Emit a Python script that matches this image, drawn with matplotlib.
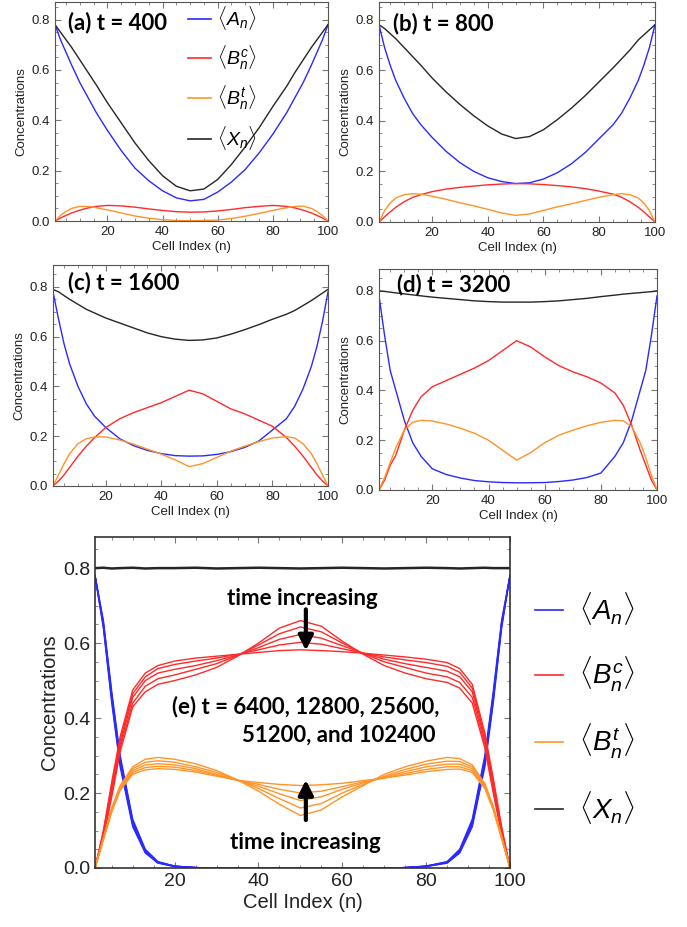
import matplotlib
matplotlib.use("Agg")
import matplotlib.pyplot as plt
from matplotlib.ticker import MultipleLocator
from matplotlib.lines import Line2D

plt.rcParams['font.family'] = ['Liberation Sans', 'DejaVu Sans']
plt.rcParams['mathtext.fontset'] = 'custom'
plt.rcParams['mathtext.rm'] = 'Liberation Sans'
plt.rcParams['mathtext.it'] = 'Liberation Sans:italic'

# cell index grid the values were read at
cell = [1, 3, 5, 7, 10, 13, 16, 20, 25, 30, 35, 40, 45, 50,
        55, 60, 65, 70, 75, 80, 85, 88, 91, 94, 96, 98, 100]

# (a) t = 400
A_400 = [0.78, 0.72, 0.67, 0.62, 0.55, 0.49, 0.43, 0.36, 0.28, 0.21, 0.16, 0.12, 0.092, 0.08,
         0.086, 0.115, 0.155, 0.205, 0.27, 0.345, 0.43, 0.49, 0.55, 0.62, 0.67, 0.72, 0.78]
Bc_400 = [0.0, 0.012, 0.022, 0.032, 0.043, 0.052, 0.058, 0.062, 0.06, 0.055, 0.048, 0.042, 0.037, 0.035,
          0.036, 0.040, 0.046, 0.053, 0.058, 0.062, 0.058, 0.052, 0.043, 0.032, 0.022, 0.012, 0.0]
Bt_400 = [0.0, 0.022, 0.038, 0.05, 0.058, 0.058, 0.053, 0.044, 0.032, 0.02, 0.011, 0.005, 0.002, 0.001,
          0.002, 0.004, 0.010, 0.019, 0.030, 0.042, 0.053, 0.058, 0.059, 0.05, 0.038, 0.022, 0.0]
X_400 = [0.78, 0.75, 0.72, 0.69, 0.64, 0.59, 0.54, 0.47, 0.39, 0.31, 0.24, 0.18, 0.138, 0.12,
         0.127, 0.165, 0.225, 0.295, 0.37, 0.455, 0.535, 0.59, 0.64, 0.69, 0.72, 0.75, 0.78]

# (b) t = 800
A_800 = [0.78, 0.69, 0.62, 0.56, 0.49, 0.43, 0.385, 0.335, 0.28, 0.235, 0.20, 0.175, 0.16, 0.152,
         0.155, 0.17, 0.195, 0.23, 0.275, 0.33, 0.385, 0.43, 0.49, 0.56, 0.62, 0.69, 0.78]
Bc_800 = [0.0, 0.02, 0.04, 0.058, 0.08, 0.097, 0.108, 0.12, 0.13, 0.137, 0.142, 0.147, 0.15, 0.152,
          0.151, 0.148, 0.144, 0.139, 0.132, 0.122, 0.11, 0.098, 0.08, 0.058, 0.04, 0.02, 0.0]
Bt_800 = [0.0, 0.045, 0.075, 0.095, 0.108, 0.112, 0.11, 0.102, 0.09, 0.076, 0.064, 0.05, 0.036, 0.026,
          0.032, 0.046, 0.06, 0.072, 0.085, 0.098, 0.108, 0.112, 0.108, 0.095, 0.075, 0.045, 0.0]
X_800 = [0.78, 0.765, 0.745, 0.725, 0.69, 0.655, 0.62, 0.57, 0.515, 0.465, 0.42, 0.38, 0.348, 0.33,
         0.338, 0.365, 0.405, 0.45, 0.50, 0.555, 0.61, 0.645, 0.68, 0.72, 0.74, 0.76, 0.78]

# (c) t = 1600
A_1600 = [0.78, 0.67, 0.57, 0.49, 0.40, 0.33, 0.28, 0.235, 0.19, 0.162, 0.143, 0.13, 0.122, 0.12,
          0.121, 0.127, 0.138, 0.155, 0.18, 0.225, 0.27, 0.32, 0.39, 0.48, 0.56, 0.66, 0.78]
Bc_1600 = [0.0, 0.02, 0.045, 0.075, 0.12, 0.16, 0.195, 0.235, 0.27, 0.295, 0.315, 0.335, 0.36, 0.385,
           0.37, 0.34, 0.31, 0.29, 0.265, 0.24, 0.195, 0.16, 0.12, 0.075, 0.045, 0.02, 0.0]
Bt_1600 = [0.0, 0.045, 0.09, 0.13, 0.17, 0.19, 0.197, 0.197, 0.185, 0.168, 0.148, 0.128, 0.105, 0.078,
           0.09, 0.115, 0.14, 0.16, 0.178, 0.193, 0.198, 0.193, 0.17, 0.13, 0.09, 0.045, 0.0]
X_1600 = [0.79, 0.78, 0.765, 0.75, 0.73, 0.71, 0.695, 0.675, 0.655, 0.635, 0.615, 0.60, 0.59, 0.585,
          0.587, 0.595, 0.61, 0.628, 0.648, 0.67, 0.69, 0.705, 0.725, 0.745, 0.76, 0.775, 0.79]

# (d) t = 3200
A_3200 = [0.78, 0.62, 0.48, 0.40, 0.28, 0.19, 0.135, 0.085, 0.062, 0.048, 0.038, 0.033, 0.03, 0.029,
          0.029, 0.03, 0.034, 0.04, 0.05, 0.068, 0.135, 0.19, 0.28, 0.40, 0.48, 0.62, 0.78]
Bc_3200 = [0.0, 0.04, 0.10, 0.14, 0.24, 0.32, 0.375, 0.415, 0.44, 0.465, 0.49, 0.52, 0.56, 0.60,
           0.575, 0.535, 0.50, 0.475, 0.455, 0.43, 0.39, 0.34, 0.26, 0.16, 0.10, 0.04, 0.0]
Bt_3200 = [0.0, 0.05, 0.11, 0.17, 0.24, 0.272, 0.28, 0.277, 0.265, 0.248, 0.228, 0.2, 0.16, 0.12,
           0.15, 0.19, 0.22, 0.24, 0.258, 0.272, 0.28, 0.278, 0.255, 0.19, 0.13, 0.06, 0.0]
X_3200 = [0.80, 0.798, 0.795, 0.792, 0.788, 0.784, 0.78, 0.775, 0.77, 0.765, 0.76, 0.757, 0.755, 0.755,
          0.755, 0.757, 0.76, 0.765, 0.77, 0.777, 0.783, 0.787, 0.79, 0.793, 0.795, 0.797, 0.80]

# (e) t = 6400, 12800, 25600, 51200, 102400
A_late = [
    [0.78, 0.64, 0.44, 0.27, 0.11, 0.04, 0.013, 0.004, 0.001, 0.0, 0.0, 0.0, 0.0, 0.0,
     0.0, 0.0, 0.0, 0.0, 0.001, 0.004, 0.013, 0.04, 0.11, 0.27, 0.44, 0.64, 0.78],
    [0.78, 0.645, 0.448, 0.278, 0.115, 0.042, 0.014, 0.004, 0.001, 0.0, 0.0, 0.0, 0.0, 0.0,
     0.0, 0.0, 0.0, 0.0, 0.001, 0.004, 0.014, 0.042, 0.115, 0.278, 0.448, 0.645, 0.78],
    [0.78, 0.65, 0.455, 0.285, 0.12, 0.045, 0.015, 0.005, 0.001, 0.0, 0.0, 0.0, 0.0, 0.0,
     0.0, 0.0, 0.0, 0.0, 0.001, 0.005, 0.015, 0.045, 0.12, 0.285, 0.455, 0.65, 0.78],
    [0.78, 0.655, 0.462, 0.292, 0.125, 0.047, 0.016, 0.005, 0.001, 0.0, 0.0, 0.0, 0.0, 0.0,
     0.0, 0.0, 0.0, 0.0, 0.001, 0.005, 0.016, 0.047, 0.125, 0.292, 0.462, 0.655, 0.78],
    [0.78, 0.66, 0.47, 0.30, 0.13, 0.05, 0.017, 0.005, 0.001, 0.0, 0.0, 0.0, 0.0, 0.0,
     0.0, 0.0, 0.0, 0.0, 0.001, 0.005, 0.017, 0.05, 0.13, 0.30, 0.47, 0.66, 0.78],
]
Bc_late = [
    [0.0, 0.08, 0.19, 0.31, 0.43, 0.47, 0.49, 0.50, 0.515, 0.535, 0.565, 0.60, 0.64, 0.66,
     0.645, 0.605, 0.57, 0.54, 0.52, 0.505, 0.495, 0.48, 0.44, 0.32, 0.20, 0.09, 0.0],
    [0.0, 0.085, 0.20, 0.32, 0.44, 0.485, 0.505, 0.515, 0.53, 0.545, 0.567, 0.595, 0.625, 0.643,
     0.63, 0.60, 0.572, 0.55, 0.535, 0.52, 0.51, 0.495, 0.455, 0.33, 0.21, 0.095, 0.0],
    [0.0, 0.09, 0.21, 0.33, 0.455, 0.50, 0.52, 0.53, 0.54, 0.553, 0.568, 0.588, 0.61, 0.623,
     0.613, 0.593, 0.573, 0.557, 0.545, 0.535, 0.525, 0.51, 0.47, 0.34, 0.22, 0.10, 0.0],
    [0.0, 0.095, 0.22, 0.34, 0.465, 0.51, 0.532, 0.543, 0.552, 0.56, 0.57, 0.582, 0.595, 0.602,
     0.597, 0.585, 0.573, 0.563, 0.555, 0.548, 0.538, 0.522, 0.48, 0.35, 0.23, 0.105, 0.0],
    [0.0, 0.10, 0.23, 0.35, 0.475, 0.52, 0.54, 0.552, 0.56, 0.565, 0.57, 0.575, 0.58, 0.582,
     0.58, 0.577, 0.573, 0.568, 0.563, 0.557, 0.548, 0.532, 0.49, 0.36, 0.24, 0.11, 0.0],
]
Bt_late = [
    [0.0, 0.08, 0.16, 0.22, 0.27, 0.29, 0.295, 0.29, 0.278, 0.26, 0.235, 0.205, 0.17, 0.14,
     0.155, 0.19, 0.22, 0.25, 0.27, 0.285, 0.295, 0.292, 0.275, 0.225, 0.165, 0.085, 0.0],
    [0.0, 0.08, 0.158, 0.217, 0.265, 0.282, 0.286, 0.282, 0.27, 0.255, 0.235, 0.212, 0.185, 0.16,
     0.172, 0.20, 0.223, 0.245, 0.263, 0.277, 0.285, 0.284, 0.27, 0.222, 0.163, 0.084, 0.0],
    [0.0, 0.078, 0.155, 0.213, 0.26, 0.275, 0.278, 0.275, 0.265, 0.25, 0.234, 0.218, 0.198, 0.18,
     0.19, 0.21, 0.227, 0.242, 0.257, 0.27, 0.277, 0.277, 0.265, 0.218, 0.16, 0.082, 0.0],
    [0.0, 0.077, 0.152, 0.21, 0.255, 0.268, 0.271, 0.269, 0.26, 0.247, 0.234, 0.223, 0.21, 0.20,
     0.205, 0.217, 0.23, 0.24, 0.252, 0.263, 0.27, 0.27, 0.26, 0.215, 0.158, 0.08, 0.0],
    [0.0, 0.075, 0.15, 0.207, 0.25, 0.262, 0.265, 0.263, 0.256, 0.245, 0.234, 0.228, 0.223, 0.22,
     0.222, 0.226, 0.233, 0.24, 0.248, 0.257, 0.263, 0.264, 0.255, 0.212, 0.155, 0.078, 0.0],
]
X_late = [0.80, 0.801, 0.799, 0.80, 0.801, 0.799, 0.80, 0.80, 0.801, 0.799, 0.80, 0.801, 0.80, 0.799,
          0.80, 0.801, 0.80, 0.799, 0.80, 0.801, 0.80, 0.799, 0.80, 0.801, 0.80, 0.80, 0.80]

blue = '#2a2aff'
red = '#ff2a2a'
orange = '#ff9428'
black = '#262626'
names = [r'$\langle A_n \rangle$', r'$\langle B_n^c \rangle$',
         r'$\langle B_n^t \rangle$', r'$\langle X_n \rangle$']

W, H = 687.0, 927.0


def rect(l, r, t, b):
    return [l / W, 1 - b / H, (r - l) / W, (b - t) / H]


def style(ax, ymax, fs, lfs):
    ax.set_xlim(1, 100)
    ax.set_ylim(0, ymax)
    ax.set_xticks([20, 40, 60, 80, 100])
    ax.xaxis.set_minor_locator(MultipleLocator(5))
    ax.yaxis.set_major_locator(MultipleLocator(0.2))
    ax.yaxis.set_minor_locator(MultipleLocator(0.05))
    ax.tick_params(which='both', direction='in', top=True, right=True,
                   color='#777777', labelsize=fs, labelcolor='#222222')
    ax.tick_params(which='major', length=4)
    ax.tick_params(which='minor', length=2)
    for s in ax.spines.values():
        s.set_color('#555555')
    ax.set_xlabel('Cell Index (n)', fontsize=lfs, color='#222222', labelpad=2)
    ax.set_ylabel('Concentrations', fontsize=lfs, color='#222222', labelpad=3)


fig = plt.figure(figsize=(6.87, 9.27), dpi=100)

small = [
    (rect(55, 328, 2, 221), 0.87, A_400, Bc_400, Bt_400, X_400, '(a) t = 400', (0.048, 0.905)),
    (rect(379, 655, 2, 222), 0.87, A_800, Bc_800, Bt_800, X_800, '(b) t = 800', (0.05, 0.9)),
    (rect(53, 328, 265, 486), 0.888, A_1600, Bc_1600, Bt_1600, X_1600, '(c) t = 1600', (0.055, 0.923)),
    (rect(379, 657, 269, 490), 0.888, A_3200, Bc_3200, Bt_3200, X_3200, '(d) t = 3200', (0.065, 0.928)),
]

axes = []
for pos, ymax, a, bc, bt, xx, title, tpos in small:
    ax = fig.add_axes(pos)
    ax.plot(cell, a, color=blue, lw=1.0)
    ax.plot(cell, bc, color=red, lw=1.0)
    ax.plot(cell, bt, color=orange, lw=1.0)
    ax.plot(cell, xx, color=black, lw=1.0)
    style(ax, ymax, 9.5, 9.5)
    ax.text(tpos[0], tpos[1], title, transform=ax.transAxes, ha='left', va='center',
            fontsize=16, fontweight='bold', family=['Lato', 'DejaVu Sans'])
    axes.append(ax)

handles = [Line2D([], [], color=c, lw=1.2) for c in (blue, red, orange, black)]
axes[0].legend(handles, names, loc='upper left', bbox_to_anchor=(0.48, 1.0),
               frameon=False, fontsize=14, handlelength=1.2, handletextpad=0.3,
               labelspacing=0.6, borderpad=0.1, borderaxespad=0)

# (e)
ax = fig.add_axes(rect(95, 510, 537, 868))
for series in A_late:
    ax.plot(cell, series, color=blue, lw=1.0)
for series in Bc_late:
    ax.plot(cell, series, color=red, lw=1.0)
for series in Bt_late:
    ax.plot(cell, series, color=orange, lw=1.0)
ax.plot(cell, X_late, color=black, lw=1.8)
style(ax, 0.883, 14, 14.5)
for s in ax.spines.values():
    s.set_color('#333333')
    s.set_linewidth(1.2)

bold = dict(fontsize=16, fontweight='bold', family=['Lato', 'DejaVu Sans'])
ax.text(50.4, 0.72, 'time increasing', ha='center', va='center', **bold)
ax.text(51.1, 0.069, 'time increasing', ha='center', va='center', **bold)
ax.text(83.3, 0.43, '(e) t = 6400, 12800, 25600,', ha='right', va='center', **bold)
ax.text(82.2, 0.355, '51200, and 102400', ha='right', va='center', **bold)
arrow = dict(arrowstyle='-|>', lw=3, color='black', mutation_scale=22, shrinkA=0, shrinkB=0)
ax.annotate('', xy=(51.3, 0.58), xytext=(51.3, 0.69), arrowprops=arrow)
ax.annotate('', xy=(51.3, 0.235), xytext=(51.3, 0.128), arrowprops=arrow)

fig.legend(handles, names, loc='upper left', bbox_to_anchor=(535 / W, 1 - 590 / H),
           frameon=False, fontsize=20, handlelength=1.0, handletextpad=0.6,
           labelspacing=1.0, borderpad=0, borderaxespad=0)

fig.savefig('out.png', dpi=100)
